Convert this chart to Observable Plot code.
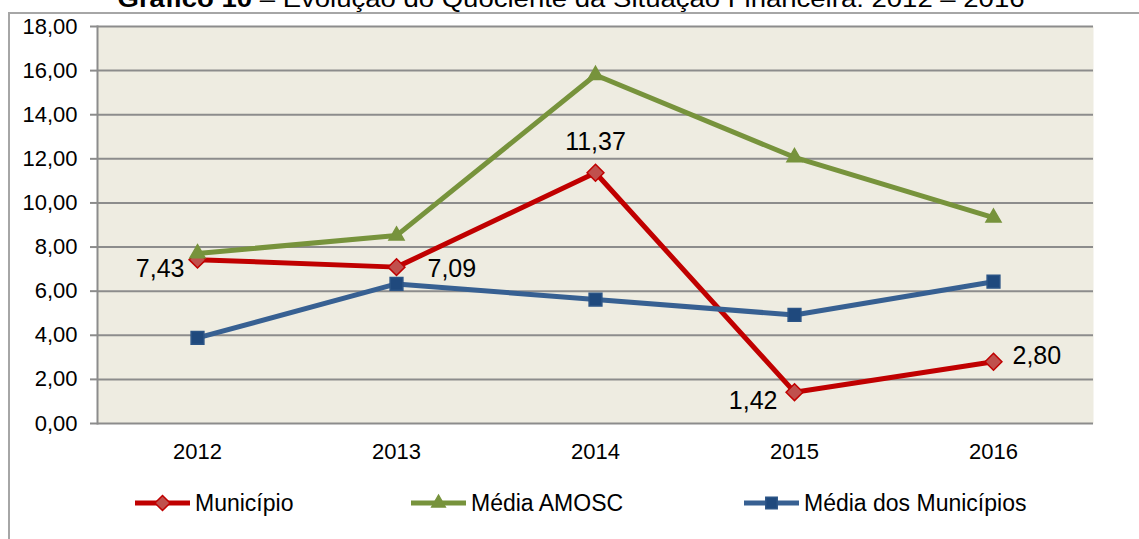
<!DOCTYPE html>
<html><head><meta charset="utf-8">
<script src="https://cdn.jsdelivr.net/npm/d3@7"></script>
<script src="https://cdn.jsdelivr.net/npm/@observablehq/plot@0.6"></script>
<style>
body{margin:0;background:#fff;font-family:"Liberation Sans",Arial,sans-serif;overflow:hidden}
#wrap{position:relative;width:1139px;height:539px;overflow:hidden}
#chart{position:absolute;left:0;top:0}
#outer{position:absolute;left:8px;top:12px;width:1200px;height:600px;border-left:2px solid #a6a6a6;border-top:2px solid #a6a6a6}
#title{position:absolute;left:0;top:0}
.leg{position:absolute;top:489px;height:28px;display:flex;align-items:center;font-size:23px;color:#000}
.leg svg{margin-right:4px}
</style></head><body>
<div id="wrap"><div id="outer"></div><div id="chart"></div><svg id="title" width="1139" height="14"></svg><div id="legend"></div></div>
<script>
const years = ["2012","2013","2014","2015","2016"];
const municipio = [7.43,7.09,11.37,1.42,2.80];
const mediaAmosc = [7.71,8.52,15.80,12.07,9.33];
const mediaMunicipios = [3.88,6.33,5.62,4.92,6.43];
const seriesNames = ["Município","Média AMOSC","Média dos Municípios"];
const yTicks = [0,2,4,6,8,10,12,14,16,18];
const titleBold = "Gráfico 10";
const titleRest = " – Evolução do Quociente da Situação Financeira: 2012 – 2016";

const seriesValues = [municipio, mediaAmosc, mediaMunicipios];
const lineColors = ["#C00000","#77933C","#376092"];
const markFill = ["#C0504D","#77933C","#1F497D"];
const markStroke = ["#C00000","#77933C","#2B5486"];
const symbols = ["diamond2","triangle","square"];
const symR = [7.6,5.6,7.2];

const rows = seriesNames.flatMap((s,i)=>years.map((y,j)=>({series:s, year:y, value:seriesValues[i][j]})));
const fmt = v => d3.format(".2f")(v).replace(".", ",");

// label placement per year for Município (style, not data)
const place = {"2012":[-13,9,"end"],"2013":[31,2,"start"],"2014":[0,-31,"middle"],"2015":[-17,9,"end"],"2016":[19,-6,"start"]};

const marks = [
  Plot.frame({fill:"#EEECE1", stroke:"none"}),
  Plot.gridY(yTicks, {stroke:"#8c8c8c", strokeOpacity:1, strokeWidth:2}),
  Plot.frame({anchor:"left", stroke:"#8c8c8c", strokeWidth:2}),
  Plot.axisY({ticks:yTicks, tickFormat:fmt, tickSize:7, tickPadding:13, stroke:"#8c8c8c", strokeWidth:2, fontSize:22, label:null, fill:"#000"}),
  Plot.axisX({tickSize:0, tickPadding:20, fontSize:22, label:null, fill:"#000"}),
];
seriesNames.forEach((s,i)=>{
  const d = rows.filter(r=>r.series===s);
  marks.push(Plot.line(d,{x:"year",y:"value",stroke:lineColors[i],strokeWidth:5,strokeLinejoin:"round"}));
  marks.push(Plot.dot(d,{x:"year",y:"value",symbol:()=>symbols[i],r:symR[i],fill:markFill[i],stroke:markStroke[i],strokeWidth:1.5}));
});
years.forEach((y,j)=>{
  const [dx,dy,anchor] = place[y];
  marks.push(Plot.text([{year:y,value:municipio[j]}],{x:"year",y:"value",text:d=>fmt(d.value),dx,dy,textAnchor:anchor,fontSize:25,fill:"#000"}));
});

const chart = Plot.plot({
  width:1139, height:539,
  marginLeft:97, marginRight:46, marginTop:26, marginBottom:116,
  style:{fontFamily:"'Liberation Sans', Arial, sans-serif", fontSize:"22px", color:"#000", background:"transparent", overflow:"visible"},
  x:{type:"point", domain:years, padding:0.5, label:null},
  y:{domain:[0,18], ticks:yTicks, label:null},
  symbol:{type:"identity"},
  marks
});
document.getElementById("chart").appendChild(chart);

// title (partially cut off at the top, as in the reference)
const t = d3.select("#title").append("text")
  .attr("x",571).attr("y",7).attr("text-anchor","middle")
  .attr("font-size",24).attr("textLength",907).attr("lengthAdjust","spacingAndGlyphs")
  .style("font-family","'Liberation Sans', Arial, sans-serif");
t.append("tspan").attr("font-weight","bold").text(titleBold);
t.append("tspan").text(titleRest);

// legend
const legLeft = [134,410,743];
const legend = d3.select("#legend");
seriesNames.forEach((s,i)=>{
  const item = legend.append("div").attr("class","leg").style("left",legLeft[i]+"px");
  const sv = item.append("svg").attr("width",57).attr("height",20);
  sv.append("line").attr("x1",1).attr("x2",56).attr("y1",10).attr("y2",10).attr("stroke",lineColors[i]).attr("stroke-width",5);
  const sym = {diamond2:d3.symbolDiamond2,triangle:d3.symbolTriangle,square:d3.symbolSquare}[symbols[i]];
  sv.append("path").attr("transform","translate(28.5,10)").attr("d",d3.symbol(sym, Math.PI*symR[i]*symR[i]*0.8)())
    .attr("fill",markFill[i]).attr("stroke",markStroke[i]).attr("stroke-width",1.5);
  item.append("span").text(s);
});
</script>
</body></html>
